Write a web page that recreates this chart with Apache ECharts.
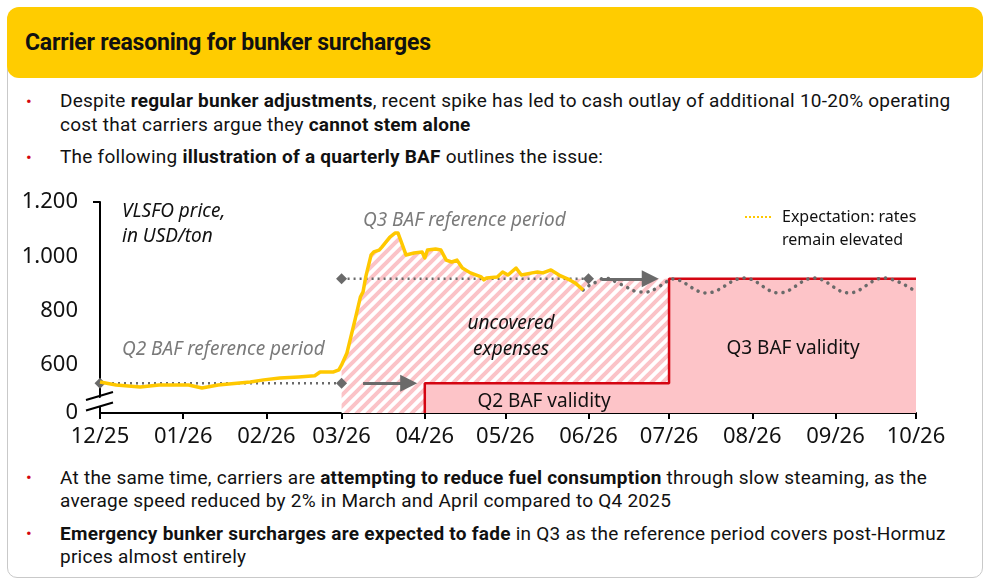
<!DOCTYPE html>
<html>
<head>
<meta charset="utf-8">
<script src="https://cdn.jsdelivr.net/npm/echarts@6/dist/echarts.min.js"></script>
<style>
body{margin:0;width:991px;height:588px;background:#fff;position:relative;overflow:hidden;font-family:Roboto,sans-serif;color:#111}
#box{position:absolute;left:7px;top:60px;height:518px;border:1px solid #c9c9c9;border-radius:10px;box-sizing:border-box;width:976px}
#hdr{position:absolute;left:7px;top:7px;width:976px;height:71px;background:#ffcc00;border-radius:12px}
#hdr span{position:absolute;left:18px;top:22px;font-weight:bold;font-size:23px;letter-spacing:-0.2px}
.b{position:absolute;left:60px;width:915px;font-size:19px;line-height:24px;letter-spacing:0.25px}
.b:before{content:'\2022';color:#d40511;position:absolute;left:-34px;font-size:17px}
#main{position:absolute;left:0;top:0;width:991px;height:588px}
</style>
</head>
<body>
<div id="box"></div>
<div id="hdr"><span>Carrier reasoning for bunker surcharges</span></div>
<div class="b" style="top:89px">Despite <b>regular bunker adjustments</b>, recent spike has led to cash outlay of additional 10-20% operating cost that carriers argue they <b>cannot stem alone</b></div>
<div class="b" style="top:145px">The following <b>illustration of a quarterly BAF</b> outlines the issue:</div>
<div class="b" style="top:466px;line-height:23px">At the same time, carriers are <b>attempting to reduce fuel consumption</b> through slow steaming, as the average speed reduced by 2% in March and April compared to Q4 2025</div>
<div class="b" style="top:522px;line-height:23px"><b>Emergency bunker surcharges are expected to fade</b> in Q3 as the reference period covers post-Hormuz prices almost entirely</div>
<div id="main"></div>
<script>
// VLSFO price (USD/ton)
var priceDates = ['2025-12-01','2025-12-07','2025-12-16','2025-12-23','2026-01-03','2026-01-08','2026-01-14','2026-01-26','2026-01-31',
  '2026-02-06','2026-02-13','2026-02-19','2026-02-21','2026-02-26','2026-02-28','2026-03-01','2026-03-03','2026-03-06','2026-03-08',
  '2026-03-09','2026-03-10','2026-03-12','2026-03-13','2026-03-15','2026-03-16','2026-03-19','2026-03-21','2026-03-22','2026-03-23',
  '2026-03-25','2026-03-28','2026-03-31','2026-04-01','2026-04-02','2026-04-05','2026-04-07','2026-04-09','2026-04-11','2026-04-13',
  '2026-04-15','2026-04-18','2026-04-22','2026-04-23','2026-04-24','2026-04-28','2026-04-30','2026-05-02','2026-05-05','2026-05-07',
  '2026-05-11','2026-05-13','2026-05-15','2026-05-18','2026-05-21','2026-05-25','2026-05-27','2026-05-30'];
var priceValues = [537,526,519,526,526,515,526,537,545,
  552,556,560,574,574,582,600,644,766,850,
  869,924,1005,1016,1023,1034,1071,1086,1086,1060,
  1005,1012,1016,994,1023,1027,1023,986,979,986,
  957,939,924,913,920,924,942,931,957,931,
  939,942,939,950,931,913,902,876];

// expectation: rates remain elevated
var expectDates = ['2026-05-30','2026-06-01','2026-06-04','2026-06-07','2026-06-12','2026-06-15','2026-06-20','2026-06-23','2026-06-27',
  '2026-06-30','2026-07-02','2026-07-15','2026-07-29','2026-08-11','2026-08-24','2026-09-06','2026-09-19','2026-09-30'];
var expectValues = [876,891,906,920,902,887,869,869,887,906,917,865,920,865,920,865,920,876];

// BAF reference periods and validity
var q2RefPeriod = ['2025-12-01','2026-03-01'];
var q2Level = 533;
var q3RefPeriod = ['2026-03-01','2026-06-01'];
var q3Level = 917;
var validityDates = ['2026-04-01','2026-07-01','2026-10-01'];
var uncoveredEnd = ['2026-05-25','2026-07-01'];
var arrowQ2 = ['2026-03-09','2026-03-26'];
var arrowQ3 = ['2026-06-06','2026-06-24'];

// axes
var monthTicks = ['2025-12-01','2026-01-01','2026-02-01','2026-03-01','2026-04-01','2026-05-01','2026-06-01','2026-07-01','2026-08-01','2026-09-01','2026-10-01'];
var monthLabels = ['12/25','01/26','02/26','03/26','04/26','05/26','06/26','07/26','08/26','09/26','10/26'];
var yBase = 423;
var yTicks = [423,600,800,1000,1200];
var yLabels = ['0','600','800','1.000','1.200'];

var ts = function (s) { return +echarts.time.parse(s); };
var tickTs = monthTicks.map(ts);

var priceData = priceDates.map(function (d, i) { return [ts(d), priceValues[i]]; });
var expectData = expectDates.map(function (d, i) { return [ts(d), expectValues[i]]; });

// hatched "uncovered" area: price from March until late May, then held at Q3 level
var hatchData = priceData.filter(function (p) { return p[0] >= ts(q3RefPeriod[0]) && p[0] <= ts('2026-05-21'); });
hatchData.push([ts(uncoveredEnd[0]), q3Level], [ts(uncoveredEnd[1]), q3Level]);

var validityData = [
  [ts(validityDates[0]), yBase], [ts(validityDates[0]), q2Level], [ts(validityDates[1]), q2Level],
  [ts(validityDates[1]), q3Level], [ts(validityDates[2]), q3Level]
];

// stripe pattern
var pat = document.createElement('canvas');
pat.width = 11; pat.height = 11;
var c = pat.getContext('2d');
c.fillStyle = '#fff'; c.fillRect(0, 0, 11, 11);
c.strokeStyle = '#fbc3c7'; c.lineWidth = 4;
c.beginPath();
c.moveTo(-2, 13); c.lineTo(13, -2);
c.moveTo(-2, 2); c.lineTo(2, -2);
c.moveTo(9, 13); c.lineTo(13, 9);
c.stroke();

var grey = '#6a6a6a';
var red = '#d40511';
var pink = '#fdc4c8';
var chartFont = 'Noto Sans';
var txt = function (x, y, text, font, color, align) {
  return { type: 'text', z: 60, x: x, y: y, style: { text: text, font: font, fill: color, align: align || 'left', verticalAlign: 'middle' } };
};

var myChart = echarts.init(document.getElementById('main'));
var option = {
  animation: false,
  grid: { left: 100, right: 75, top: 202, bottom: 175 },
  xAxis: {
    type: 'value',
    min: tickTs[0],
    max: tickTs[tickTs.length - 1],
    splitLine: { show: false },
    axisLine: { lineStyle: { color: '#000', width: 2 } },
    axisTick: { customValues: tickTs, length: 6, lineStyle: { color: '#000', width: 2 } },
    axisLabel: {
      customValues: tickTs,
      margin: 13,
      color: '#111',
      fontSize: 22,
      fontFamily: chartFont,
      formatter: function (v) { var i = tickTs.indexOf(v); return i >= 0 ? monthLabels[i] : ''; }
    }
  },
  yAxis: {
    type: 'value',
    min: yBase,
    max: 1200,
    splitLine: { show: false },
    axisLine: { show: true, lineStyle: { color: '#000', width: 2 } },
    axisTick: { show: true, customValues: [1200], length: 7, lineStyle: { color: '#000', width: 2 } },
    axisLabel: {
      customValues: yTicks,
      margin: 22,
      color: '#111',
      fontSize: 22,
      fontFamily: chartFont,
      formatter: function (v) { var i = yTicks.indexOf(v); return i >= 0 ? yLabels[i] : ''; }
    }
  },
  series: [
    {
      name: 'uncovered', type: 'line', data: hatchData, showSymbol: false, z: 1,
      lineStyle: { width: 0 },
      areaStyle: { color: { image: pat, repeat: 'repeat' }, opacity: 1, origin: 'start' }
    },
    {
      name: 'validity', type: 'line', data: validityData, showSymbol: false, z: 2,
      lineStyle: { color: red, width: 2.5 },
      areaStyle: { color: pink, opacity: 1, origin: 'start' }
    },
    {
      name: 'Q2 reference', type: 'line', z: 3,
      data: [[ts(q2RefPeriod[0]), q2Level], [ts(q2RefPeriod[1]), q2Level]],
      symbol: 'diamond', symbolSize: 11, itemStyle: { color: grey },
      lineStyle: { color: grey, width: 2.5, type: [2, 4] }
    },
    {
      name: 'Q3 reference', type: 'line', z: 3,
      data: [[ts(q3RefPeriod[0]), q3Level], [ts(q3RefPeriod[1]), q3Level]],
      symbol: 'diamond', symbolSize: 11, itemStyle: { color: grey },
      lineStyle: { color: grey, width: 2.5, type: [2, 4] }
    },
    {
      name: 'expectation', type: 'line', data: expectData, showSymbol: false, smooth: 0.4, z: 4,
      lineStyle: { color: grey, width: 3.5, type: [0.1, 7], cap: 'round' }
    },
    {
      name: 'VLSFO', type: 'line', data: priceData, showSymbol: false, z: 5,
      lineStyle: { color: '#ffc800', width: 3.5, join: 'round' },
      markLine: {
        silent: true, symbol: ['none', 'triangle'], symbolSize: 17,
        label: { show: false },
        itemStyle: { color: grey },
        lineStyle: { color: grey, width: 3, type: 'solid' },
        data: [
          [{ coord: [ts(arrowQ2[0]), q2Level] }, { coord: [ts(arrowQ2[1]), q2Level] }],
          [{ coord: [ts(arrowQ3[0]), q3Level] }, { coord: [ts(arrowQ3[1]), q3Level] }]
        ]
      }
    }
  ],
  graphic: [
    { type: 'polygon', z: 50, shape: { points: [[96, 399], [104, 396.6], [104, 405], [96, 407.4]] }, style: { fill: '#fff' } },
    { type: 'line', z: 51, shape: { x1: 86, y1: 400, x2: 113, y2: 392 }, style: { stroke: '#000', lineWidth: 2 } },
    { type: 'line', z: 51, shape: { x1: 86, y1: 410.5, x2: 113, y2: 402.5 }, style: { stroke: '#000', lineWidth: 2 } },
    txt(122, 212, 'VLSFO price,', 'italic 19px "Noto Sans"', '#111'),
    txt(122, 237, 'in USD/ton', 'italic 19px "Noto Sans"', '#111'),
    txt(363, 221, 'Q3 BAF reference period', 'italic 19px "Noto Sans"', '#7a7a7a'),
    txt(122, 350, 'Q2 BAF reference period', 'italic 19px "Noto Sans"', '#7a7a7a'),
    txt(511, 324, 'uncovered', 'italic 19px "Noto Sans"', '#111', 'center'),
    txt(511, 350, 'expenses', 'italic 19px "Noto Sans"', '#111', 'center'),
    txt(544, 402, 'Q2 BAF validity', '19px "Noto Sans"', '#111', 'center'),
    txt(793, 349, 'Q3 BAF validity', '19px "Noto Sans"', '#111', 'center'),
    { type: 'line', z: 60, shape: { x1: 745, y1: 217, x2: 771, y2: 217 }, style: { stroke: '#ffc800', lineWidth: 2, lineDash: [2, 2] } },
    txt(782, 217, 'Expectation: rates', '16px "Noto Sans"', '#111'),
    txt(782, 240, 'remain elevated', '16px "Noto Sans"', '#111')
  ]
};
myChart.setOption(option);
window.onresize = myChart.resize;
</script>
</body>
</html>
